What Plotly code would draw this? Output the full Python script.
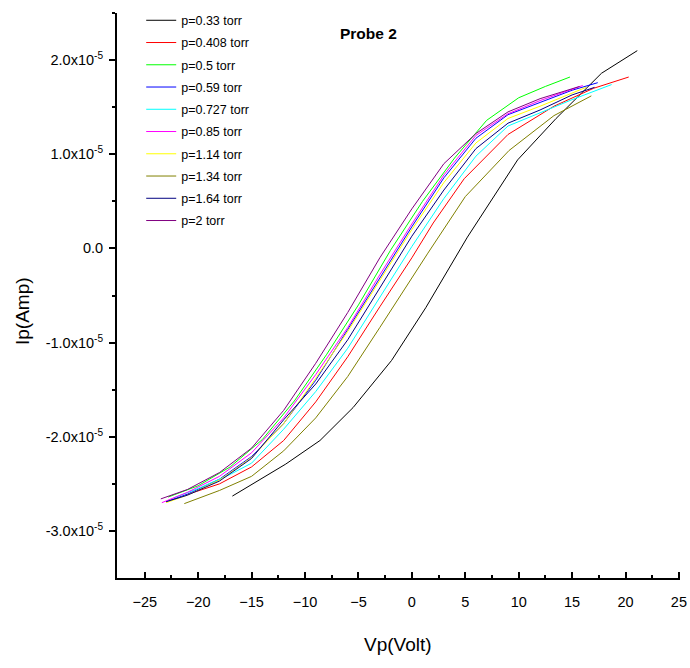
import plotly.graph_objects as go

# ---- data (current in units of 1e-5 A) ----
labels = ["p=0.33 torr", "p=0.408 torr", "p=0.5 torr", "p=0.59 torr", "p=0.727 torr",
          "p=0.85 torr", "p=1.14 torr", "p=1.34 torr", "p=1.64 torr", "p=2 torr"]
colors = ["#000000", "#ff0000", "#00ff00", "#0000ff", "#00ffff",
          "#ff00ff", "#ffff00", "#808000", "#000080", "#800080"]

v_033 = [-16.8, -11.8, -8.6, -5.5, -1.9, 1.3, 5.2, 9.9, 13.5, 17.75, 21.1]
i_033 = [-2.63, -2.29, -2.04, -1.69, -1.19, -0.63, 0.12, 0.94, 1.38, 1.86, 2.10]

v_0408 = [-21.2, -18, -15, -12, -9, -6, -3, 0, 2, 4.9, 9.0, 13.3, 17.0, 20.3]
i_0408 = [-2.62, -2.50, -2.32, -2.04, -1.63, -1.15, -0.62, -0.10, 0.27, 0.74, 1.21, 1.51, 1.70, 1.82]

v_05 = [-22.8, -20, -17, -14, -11, -8, -5, -2, 1, 4, 7, 10, 12.5, 14.8]
i_05 = [-2.64, -2.52, -2.32, -2.03, -1.62, -1.13, -0.60, -0.02, 0.50, 0.96, 1.36, 1.60, 1.72, 1.82]

v_059 = [-23.0, -21, -18, -15, -12, -9, -6, -3, 0, 3, 6, 9, 12, 15, 17.4]
i_059 = [-2.69, -2.61, -2.45, -2.21, -1.86, -1.40, -0.86, -0.31, 0.23, 0.75, 1.17, 1.42, 1.55, 1.68, 1.76]

v_0727 = [-22.3, -20, -17, -15, -12, -9, -6, -3, 0, 3, 6, 9, 12, 15, 18.7]
i_0727 = [-2.65, -2.55, -2.40, -2.28, -1.92, -1.52, -1.06, -0.52, 0.02, 0.53, 0.98, 1.30, 1.44, 1.58, 1.74]

v_085 = [-23.4, -21, -18, -15, -12, -9, -6, -3, 0, 3, 6, 9, 12, 16.0]
i_085 = [-2.70, -2.59, -2.42, -2.17, -1.80, -1.34, -0.84, -0.28, 0.26, 0.78, 1.20, 1.43, 1.57, 1.73]

v_114 = [-23.0, -21, -18, -15, -12, -9, -6, -3, 0, 3, 6, 9, 12, 16.3]
i_114 = [-2.70, -2.62, -2.46, -2.22, -1.86, -1.38, -0.88, -0.34, 0.20, 0.70, 1.12, 1.38, 1.51, 1.71]

v_134 = [-21.3, -18, -15, -12, -9, -6, -3, 0, 1.5, 5.0, 9.1, 13.3, 16.8]
i_134 = [-2.71, -2.57, -2.42, -2.15, -1.80, -1.36, -0.84, -0.31, -0.05, 0.55, 1.04, 1.41, 1.62]

v_164 = [-23.0, -21, -18, -15, -12, -9, -6, -3, 0, 3, 6, 9, 12, 15, 17.1]
i_164 = [-2.69, -2.62, -2.47, -2.23, -1.82, -1.44, -0.97, -0.42, 0.13, 0.62, 1.06, 1.33, 1.47, 1.63, 1.71]

v_2 = [-23.5, -21, -18, -15, -12, -9, -6, -3, 0, 3, 6, 9, 12, 15.7]
i_2 = [-2.66, -2.56, -2.38, -2.12, -1.72, -1.22, -0.68, -0.10, 0.42, 0.90, 1.22, 1.45, 1.59, 1.72]

series_v = [v_033, v_0408, v_05, v_059, v_0727, v_085, v_114, v_134, v_164, v_2]
series_i = [i_033, i_0408, i_05, i_059, i_0727, i_085, i_114, i_134, i_164, i_2]

y_tickvals = [-3e-5, -2e-5, -1e-5, 0, 1e-5, 2e-5]
y_ticktext = ["-3.0x10<sup>-5</sup>", "-2.0x10<sup>-5</sup>", "-1.0x10<sup>-5</sup>", "0.0",
              "1.0x10<sup>-5</sup>", "2.0x10<sup>-5</sup>"]
y_minor = [-2.5e-5, -1.5e-5, -0.5e-5, 0.5e-5, 1.5e-5, 2.5e-5]
x_tickvals = [-25, -20, -15, -10, -5, 0, 5, 10, 15, 20, 25]
x_minor = [-22.5, -17.5, -12.5, -7.5, -2.5, 2.5, 7.5, 12.5, 17.5, 22.5]

FONT = "Liberation Sans, Arial, sans-serif"

W, H = 690, 668
ML, MR, MT, MB = 117, 10, 13, 90
PW, PH = W - ML - MR, H - MT - MB

fig = go.Figure()
for k in range(len(labels)):
    fig.add_trace(go.Scatter(
        x=series_v[k], y=[v * 1e-5 for v in series_i[k]], mode="lines",
        name=labels[k], legendgroup=labels[k],
        line=dict(color=colors[k], width=1)))

fig.update_layout(
    width=W, height=H,
    margin=dict(l=ML, r=MR, t=MT, b=MB, autoexpand=False),
    paper_bgcolor="white", plot_bgcolor="white",
    font=dict(family=FONT, color="black"),
    showlegend=True,
    legend=dict(x=0.043, y=1.013, xanchor="left", yanchor="top",
                font=dict(size=12.5, family=FONT), tracegroupgap=3,
                bgcolor="rgba(0,0,0,0)", borderwidth=0),
    xaxis=dict(range=[-27.6, 25.1], showgrid=False, zeroline=False,
               showline=True, linecolor="black", linewidth=2,
               tickmode="array", tickvals=x_tickvals,
               ticks="inside", ticklen=6, tickwidth=1.5, tickcolor="black",
               minor=dict(tickvals=x_minor, ticks="inside", ticklen=3, tickwidth=1.5, tickcolor="black"),
               tickfont=dict(size=14.5, family=FONT), ticklabelstandoff=10),
    yaxis=dict(range=[-3.5e-5, 2.5e-5], showgrid=False, zeroline=False,
               showline=True, linecolor="black", linewidth=2,
               tickmode="array", tickvals=y_tickvals, ticktext=y_ticktext,
               ticks="outside", ticklen=6, tickwidth=1.5, tickcolor="black",
               minor=dict(tickvals=y_minor, ticks="outside", ticklen=3, tickwidth=1.5, tickcolor="black"),
               tickfont=dict(size=14.5, family=FONT), ticklabelstandoff=3),
    annotations=[
        dict(text="<b>Probe 2</b>", x=(368 - ML) / PW, y=(MT + PH - 33) / PH,
             xref="paper", yref="paper", xanchor="center", yanchor="middle",
             showarrow=False, font=dict(size=15.5, family=FONT)),
        dict(text="Ip(Amp)", x=(22 - ML) / PW, y=(MT + PH - 311) / PH,
             xref="paper", yref="paper", xanchor="center", yanchor="middle", textangle=-90,
             showarrow=False, font=dict(size=19, family=FONT)),
        dict(text="Vp(Volt)", x=(398 - ML) / PW, y=(MT + PH - 644) / PH,
             xref="paper", yref="paper", xanchor="center", yanchor="middle",
             showarrow=False, font=dict(size=19, family=FONT)),
    ],
)

fig.write_html("out.html", config={"displayModeBar": False},
               post_script="document.body.style.margin='0';")
